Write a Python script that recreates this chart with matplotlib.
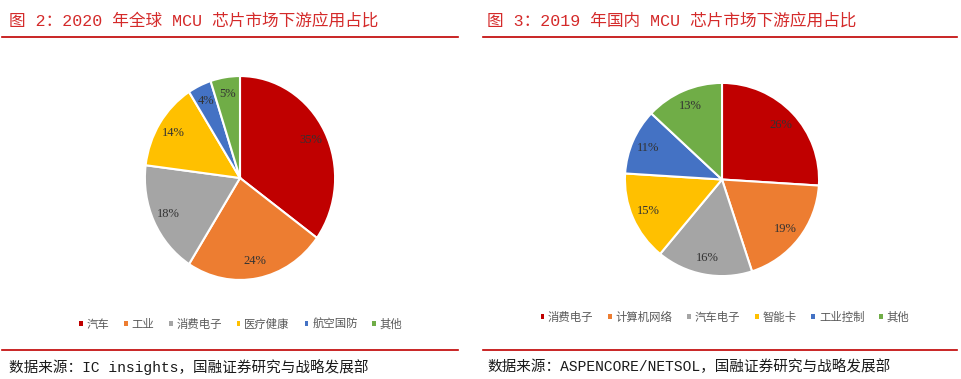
import matplotlib.pyplot as plt
from matplotlib.patches import Patch
from matplotlib.lines import Line2D

plt.rcParams['font.family'] = ['Liberation Serif', 'Noto Sans CJK SC']

# data
left_title = '图 2：2020 年全球 MCU 芯片市场下游应用占比'
left_labels = ['汽车', '工业', '消费电子', '医疗健康', '航空国防', '其他']
left_values = [35, 24, 18, 14, 4, 5]
left_source = '数据来源：IC insights，国融证券研究与战略发展部'

right_title = '图 3：2019 年国内 MCU 芯片市场下游应用占比'
right_labels = ['消费电子', '计算机网络', '汽车电子', '智能卡', '工业控制', '其他']
right_values = [26, 19, 16, 15, 11, 13]
right_source = '数据来源：ASPENCORE/NETSOL，国融证券研究与战略发展部'

colors = ['#C00000', '#ED7D31', '#A5A5A5', '#FFC000', '#4472C4', '#70AD47']
red = '#C00000'
mono = ['Liberation Mono', 'Noto Sans CJK SC']

W, H = 961, 379
fig = plt.figure(figsize=(W / 100, H / 100), dpi=100)


def px_axes(x0, y0, x1, y1):
    # pixel box (top-left origin) -> figure axes
    return fig.add_axes([x0 / W, 1 - y1 / H, (x1 - x0) / W, (y1 - y0) / H])


def draw_pie(ax, values):
    ax.pie(values, colors=colors, startangle=90, counterclock=False,
           autopct='%d%%', pctdistance=0.83,
           wedgeprops=dict(edgecolor='white', linewidth=1.5),
           textprops=dict(fontsize=9, color='#333333'))
    ax.set_aspect('auto')
    ax.set_xlim(-1.02, 1.02)
    ax.set_ylim(-1.02, 1.02)
    ax.axis('off')


ax1 = px_axes(143, 74, 337, 282)
draw_pie(ax1, left_values)
ax2 = px_axes(623, 81, 821, 278)
draw_pie(ax2, right_values)


def hline(x0, x1, y):
    fig.add_artist(Line2D([x0 / W, x1 / W], [1 - y / H, 1 - y / H],
                          color=red, linewidth=1.2, transform=fig.transFigure))


for x0, x1 in [(2, 458), (483, 957)]:
    hline(x0, x1, 37)
    hline(x0, x1, 350)

fig.text(9 / W, 1 - 21 / H, left_title, fontsize=12, color='#D42A2A',
         va='center', family=mono)
fig.text(487 / W, 1 - 21 / H, right_title, fontsize=12, color='#D42A2A',
         va='center', family=mono)
fig.text(9 / W, 1 - 367 / H, left_source, fontsize=10.5, color='#1a1a1a',
         va='center', family=mono)
fig.text(487 / W, 1 - 367 / H, right_source, fontsize=10.5, color='#1a1a1a',
         va='center', family=mono)


def legend(labels, xc, yc):
    handles = [Patch(facecolor=c, edgecolor='none') for c in colors]
    fig.legend(handles, labels, loc='center', bbox_to_anchor=(xc / W, 1 - yc / H),
               ncol=6, frameon=False, fontsize=8.2, labelcolor='#595959',
               handlelength=0.3, handleheight=0.3, handletextpad=0.35,
               columnspacing=1.3)


legend(left_labels, 241, 324)
legend(right_labels, 725, 317)

fig.savefig('out.png', dpi=100)
